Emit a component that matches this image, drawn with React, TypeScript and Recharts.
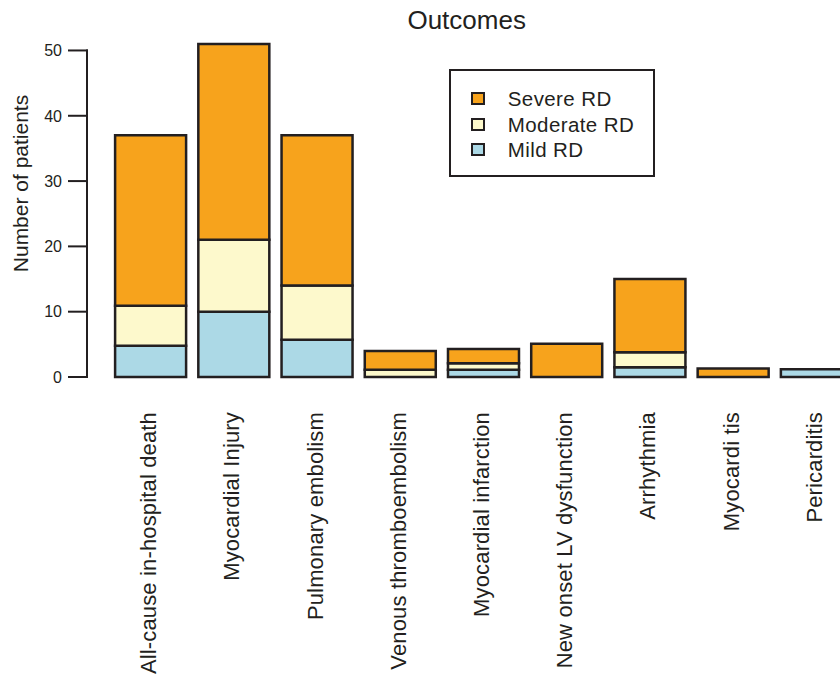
import React from 'react';
import { BarChart, Bar, XAxis, YAxis, Legend } from 'recharts';

const categories = [
  'All-cause in-hospital death',
  'Myocardial Injury',
  'Pulmonary embolism',
  'Venous thromboembolism',
  'Myocardial infarction',
  'New onset LV dysfunction',
  'Arrhythmia',
  'Myocardi tis',
  'Pericarditis',
];
const mildRD = [4.8, 10, 5.7, 0, 1.1, 0, 1.5, 0, 1.2];
const moderateRD = [6.1, 11, 8.3, 1.1, 1.0, 0, 2.3, 0, 0];
const severeRD = [26.1, 30, 23, 2.9, 2.2, 5.1, 11.2, 1.3, 0];
const yTicks = [0, 10, 20, 30, 40, 50];
const Y_MAX = 52;

const seriesNames: Record<string, string> = {
  mild: 'Mild RD',
  moderate: 'Moderate RD',
  severe: 'Severe RD',
};
const seriesColors: Record<string, string> = {
  mild: '#acd9e6',
  moderate: '#fdf9cc',
  severe: '#f7a31c',
};

const data = categories.map((name, i) => ({
  name,
  mild: mildRD[i],
  moderate: moderateRD[i],
  severe: severeRD[i],
}));

const INK = '#231f20';
const FONT = '"Liberation Sans", Arial, sans-serif';
const CHART_W = 850;
const CHART_H = 670;
const MARGIN_TOP = 29.4;
const XAXIS_H = 301;
const YAXIS_W = 101;
const PLOT_H = CHART_H - MARGIN_TOP - XAXIS_H;
const PX_PER_UNIT = PLOT_H / Y_MAX;
const AXIS_OFFSET = 22;
const TICK_LEN = 19;

const YTick = (props: any) => {
  const { x, y, payload } = props;
  const v = payload.value as number;
  const axisX = x - AXIS_OFFSET;
  const idx = yTicks.indexOf(v);
  const next = idx >= 0 && idx < yTicks.length - 1 ? yTicks[idx + 1] : null;
  return (
    <g>
      <line x1={axisX - TICK_LEN} x2={axisX + 1} y1={y} y2={y} stroke={INK} strokeWidth={2} />
      {next !== null && (
        <line
          x1={axisX}
          x2={axisX}
          y1={y + 1}
          y2={y - (next - v) * PX_PER_UNIT - 1}
          stroke={INK}
          strokeWidth={2}
        />
      )}
      <text
        x={axisX - TICK_LEN - 6}
        y={y}
        dy="0.36em"
        textAnchor="end"
        fontSize={16}
        fontFamily={FONT}
        fill={INK}
      >
        {v}
      </text>
    </g>
  );
};

const XTick = (props: any) => {
  const { x, y, payload } = props;
  return (
    <text
      x={x}
      y={y}
      dy="0.25em"
      transform={`rotate(-90 ${x} ${y})`}
      textAnchor="end"
      fontSize={22}
      fontFamily={FONT}
      fill={INK}
      letterSpacing={0.15}
    >
      {payload.value}
    </text>
  );
};

const YLabel = () => (
  <text
    x={20}
    y={175.5}
    transform="rotate(-90 20 175.5)"
    textAnchor="middle"
    fontSize={21}
    fontFamily={FONT}
    fill={INK}
  >
    Number of patients
  </text>
);

const LegendBox = (props: any) => {
  const payload = [...(props.payload || [])].reverse();
  return (
    <div
      style={{
        position: 'relative',
        boxSizing: 'border-box',
        width: 206,
        height: 108,
        border: `2.5px solid ${INK}`,
        background: '#fff',
        fontFamily: FONT,
      }}
    >
      {payload.map((entry: any, i: number) => {
        const key = entry.dataKey as string;
        const top = 18 + i * 25.5;
        return (
          <React.Fragment key={key}>
            <div
              style={{
                position: 'absolute',
                left: 19.5,
                top: top + 3,
                width: 14,
                height: 13,
                boxSizing: 'border-box',
                border: `2px solid ${INK}`,
                background: seriesColors[key] || entry.color,
              }}
            />
            <div
              style={{
                position: 'absolute',
                left: 56.5,
                top: top,
                fontSize: 20.5,
                letterSpacing: 0.4,
                lineHeight: '20px',
                color: INK,
                whiteSpace: 'nowrap',
              }}
            >
              {seriesNames[key] || entry.value}
            </div>
          </React.Fragment>
        );
      })}
    </div>
  );
};

export default function App() {
  return (
    <div
      style={{
        position: 'absolute',
        left: 0,
        top: 0,
        width: 840,
        height: 678,
        overflow: 'hidden',
        background: '#fff',
      }}
    >
      <div style={{ position: 'absolute', left: 8, top: 8, width: CHART_W, height: CHART_H }}>
        <div
          style={{
            position: 'absolute',
            left: 458.7 - 150,
            width: 300,
            top: -0.7,
            textAlign: 'center',
            fontFamily: FONT,
            fontSize: 26,
            lineHeight: '26px',
            color: INK,
            zIndex: 2,
          }}
        >
          Outcomes
        </div>
        <BarChart
          width={CHART_W}
          height={CHART_H}
          data={data}
          margin={{ top: MARGIN_TOP, right: 0, bottom: 0, left: 0 }}
          barCategoryGap={6.1}
        >
          <XAxis
            dataKey="name"
            interval={0}
            height={XAXIS_H}
            axisLine={false}
            tickLine={false}
            tickSize={0}
            tickMargin={35}
            tick={<XTick />}
          />
          <YAxis
            type="number"
            domain={[0, Y_MAX]}
            ticks={yTicks}
            width={YAXIS_W}
            axisLine={false}
            tickLine={false}
            tickSize={0}
            tickMargin={0}
            tick={<YTick />}
            label={<YLabel />}
          />
          <Legend
            layout="vertical"
            align="center"
            verticalAlign="middle"
            wrapperStyle={{ top: 61.3, left: 441.3, width: 206, height: 108 }}
            content={<LegendBox />}
          />
          <Bar dataKey="mild" name="Mild RD" stackId="a" fill={seriesColors.mild} stroke={INK} strokeWidth={2.5} isAnimationActive={false} />
          <Bar dataKey="moderate" name="Moderate RD" stackId="a" fill={seriesColors.moderate} stroke={INK} strokeWidth={2.5} isAnimationActive={false} />
          <Bar dataKey="severe" name="Severe RD" stackId="a" fill={seriesColors.severe} stroke={INK} strokeWidth={2.5} isAnimationActive={false} />
        </BarChart>
      </div>
    </div>
  );
}
